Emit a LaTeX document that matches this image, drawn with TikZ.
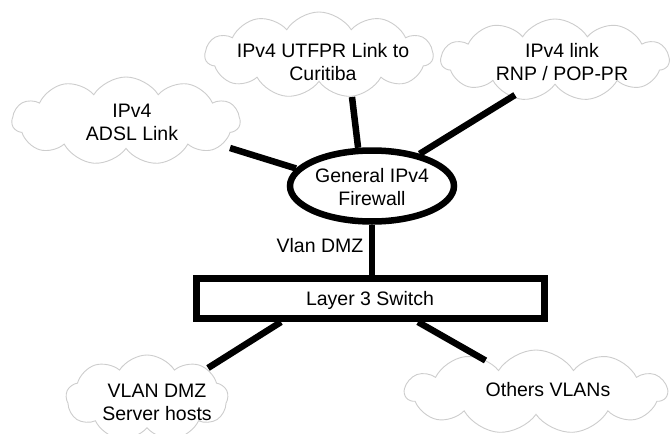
\documentclass[tikz,border=0pt]{standalone}
\usepackage{fontspec}
\setmainfont{Liberation Sans}
\usetikzlibrary{shapes.symbols,shapes.geometric}
\definecolor{cloudgray}{RGB}{205,205,205}
\tikzset{
  cloudbox/.style={cloud, cloud puffs=11, cloud puff arc=115, cloud ignores aspect,
    draw=cloudgray, line width=0.9pt, inner sep=0pt, fill=white},
  lbl/.style={align=center, inner sep=0pt, font=\fontsize{19.5}{23}\selectfont},
  link/.style={line width=6.5pt},
}
\begin{document}
\begin{tikzpicture}[x=1pt,y=-1pt]
\useasboundingbox (0,0) rectangle (670,434);
% clouds
\node[cloudbox, minimum width=228pt, minimum height=88pt] (adsl) at (126,121) {};
\node[cloudbox, minimum width=228pt, minimum height=86pt] (utf) at (319,55) {};
\node[cloudbox, minimum width=228pt, minimum height=82pt] (rnp) at (555,60) {};
\node[cloudbox, cloud puffs=9, minimum width=162pt, minimum height=86pt] (vlan) at (147,398) {};
\node[cloudbox, minimum width=262pt, minimum height=84pt] (others) at (536,392) {};
% texts
\node[lbl] (adslt) at (132,122) {IPv4\\ADSL Link};
\node[lbl] (utft) at (323,62) {IPv4 UTFPR Link to\\Curitiba};
\node[lbl] (rnpt) at (562,62) {IPv4 link\\RNP / POP-PR};
\node[lbl] (vlant) at (157,402) {VLAN DMZ\\Server hosts};
\node[lbl] (otherst) at (548,390) {Others VLANs};
% firewall and switch
\node[ellipse, draw, line width=6.5pt, minimum width=164pt, minimum height=71pt, inner sep=0pt] (fw) at (372,186) {};
\node[lbl] (fwt) at (372,187) {General IPv4\\Firewall};
\node[rectangle, draw, line width=7pt, minimum width=348pt, minimum height=40pt, inner sep=0pt] (sw) at (370.5,298.5) {};
\node[lbl] (swt) at (370,300) {Layer 3 Switch};
\node[lbl] (dmz) at (320,246) {Vlan DMZ};
% links
\draw[link] (fw.167) -- ([xshift=104pt,yshift=-27pt]adsl.center);
\draw[link] (fw.110) -- ([xshift=33pt,yshift=-42pt]utf.center);
\draw[link] (fw.34) -- ([xshift=-40pt,yshift=-35pt]rnp.center);
\draw[link] (fw.south) -- (fw.south |- sw.north);
\draw[link] ([xshift=-89.5pt]sw.south) -- ([xshift=61pt,yshift=30pt]vlan.center);
\draw[link] ([xshift=47.5pt]sw.south) -- ([xshift=-50.5pt,yshift=31.5pt]others.center);
\end{tikzpicture}
\end{document}
